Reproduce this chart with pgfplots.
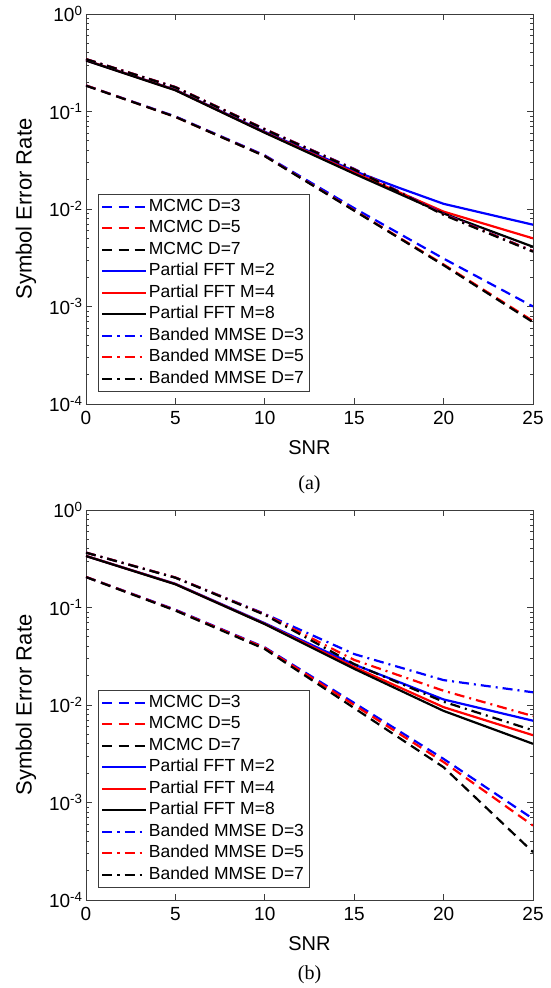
\documentclass[border=0pt]{standalone}
\usepackage{fontspec}
\setmainfont{Liberation Sans}
\newfontfamily\capfont{Liberation Serif}
\usepackage{pgfplots}
\pgfplotsset{compat=1.18}

\definecolor{axgray}{RGB}{60,60,60}
\newcommand{\fs}{\fontsize{17.5}{21}\selectfont}
\newcommand{\tfs}{\fontsize{19}{22}\selectfont}

\tikzset{
  dsh/.style={line width=2.2pt, dash pattern=on 10pt off 6pt},
  sld/.style={line width=2.2pt},
  ddt/.style={line width=2.2pt, dash pattern=on 10pt off 5pt on 2pt off 5pt},
}

\begin{document}
\begin{tikzpicture}

% (a)
\begin{axis}[
    at={(0pt,496pt)}, anchor=south west,
    scale only axis, width=447pt, height=390pt,
    ymode=log,
    xmin=0, xmax=25, ymin=1e-4, ymax=1,
    xtick={0,5,10,15,20,25},
    xticklabels={0,5,10,15,20,25},
    ytick={1e-4,1e-3,1e-2,1e-1,1},
    yticklabels={10\textsuperscript{-4},10\textsuperscript{-3},10\textsuperscript{-2},10\textsuperscript{-1},10\textsuperscript{0}},
    tick align=inside,
    major tick length=6pt, minor tick length=3pt,
    axis line style={axgray, line width=0.8pt},
    tick style={axgray, line width=0.8pt},
    xticklabel style={font=\tfs, yshift=-4pt},
    yticklabel style={font=\tfs},
    xlabel=SNR, ylabel=Symbol Error Rate,
    xlabel style={font=\fontsize{20}{24}\selectfont, at={(axis description cs:0.5,0)}, anchor=center, yshift=-44pt},
    ylabel style={font=\fontsize{22}{26}\selectfont, at={(axis description cs:0,0.5)}, anchor=center, yshift=60pt},
    legend cell align=left,
    legend image code/.code={\draw[#1] (0pt,0pt) -- (43pt,0pt);},
    legend style={at={(0,0)}, anchor=south west, xshift=12pt, yshift=12pt,
      draw=axgray, line width=0.8pt, font=\fs, row sep=0pt,
      nodes={text height=13pt, text depth=4pt, inner sep=2.25pt}},
]
\addplot[dsh, blue] coordinates {(0,0.185)(5,0.089)(10,0.0355)(15,0.0102)(20,0.0031)(25,0.00100)};
\addlegendentry{MCMC D=3}
\addplot[dsh, red] coordinates {(0,0.185)(5,0.088)(10,0.0350)(15,0.0097)(20,0.0027)(25,0.00071)};
\addlegendentry{MCMC D=5}
\addplot[dsh, black] coordinates {(0,0.184)(5,0.088)(10,0.0348)(15,0.0096)(20,0.00265)(25,0.00069)};
\addlegendentry{MCMC D=7}
\addplot[sld, blue] coordinates {(0,0.335)(5,0.167)(10,0.062)(15,0.0245)(17.5,0.0165)(20,0.0113)(25,0.0069)};
\addlegendentry{Partial FFT M=2}
\addplot[sld, red] coordinates {(0,0.335)(5,0.166)(10,0.061)(15,0.0236)(20,0.0094)(25,0.0050)};
\addlegendentry{Partial FFT M=4}
\addplot[sld, black] coordinates {(0,0.333)(5,0.165)(10,0.0605)(15,0.0230)(20,0.0090)(25,0.0041)};
\addlegendentry{Partial FFT M=8}
\addplot[ddt, blue] coordinates {(0,0.345)(5,0.178)(10,0.066)(15,0.0258)(20,0.0089)(25,0.0037)};
\addlegendentry{Banded MMSE D=3}
\addplot[ddt, red] coordinates {(0,0.345)(5,0.178)(10,0.066)(15,0.0256)(20,0.0088)(25,0.0037)};
\addlegendentry{Banded MMSE D=5}
\addplot[ddt, black] coordinates {(0,0.344)(5,0.177)(10,0.0655)(15,0.0254)(20,0.0087)(25,0.00365)};
\addlegendentry{Banded MMSE D=7}
\end{axis}

% (b)
\begin{axis}[
    at={(0pt,0pt)}, anchor=south west,
    scale only axis, width=447pt, height=390pt,
    ymode=log,
    xmin=0, xmax=25, ymin=1e-4, ymax=1,
    xtick={0,5,10,15,20,25},
    xticklabels={0,5,10,15,20,25},
    ytick={1e-4,1e-3,1e-2,1e-1,1},
    yticklabels={10\textsuperscript{-4},10\textsuperscript{-3},10\textsuperscript{-2},10\textsuperscript{-1},10\textsuperscript{0}},
    tick align=inside,
    major tick length=6pt, minor tick length=3pt,
    axis line style={axgray, line width=0.8pt},
    tick style={axgray, line width=0.8pt},
    xticklabel style={font=\tfs, yshift=-4pt},
    yticklabel style={font=\tfs},
    xlabel=SNR, ylabel=Symbol Error Rate,
    xlabel style={font=\fontsize{20}{24}\selectfont, at={(axis description cs:0.5,0)}, anchor=center, yshift=-44pt},
    ylabel style={font=\fontsize{22}{26}\selectfont, at={(axis description cs:0,0.5)}, anchor=center, yshift=60pt},
    legend cell align=left,
    legend image code/.code={\draw[#1] (0pt,0pt) -- (43pt,0pt);},
    legend style={at={(0,0)}, anchor=south west, xshift=12pt, yshift=12pt,
      draw=axgray, line width=0.8pt, font=\fs, row sep=0pt,
      nodes={text height=13pt, text depth=4pt, inner sep=2.25pt}},
]
\addplot[dsh, blue] coordinates {(0,0.206)(5,0.095)(10,0.039)(15,0.0105)(20,0.0028)(25,0.00068)};
\addlegendentry{MCMC D=3}
\addplot[dsh, red] coordinates {(0,0.206)(5,0.094)(10,0.0385)(15,0.0100)(20,0.0026)(25,0.00058)};
\addlegendentry{MCMC D=5}
\addplot[dsh, black] coordinates {(0,0.205)(5,0.093)(10,0.0375)(15,0.0093)(20,0.0023)(25,0.00031)};
\addlegendentry{MCMC D=7}
\addplot[sld, blue] coordinates {(0,0.338)(5,0.175)(10,0.069)(15,0.0260)(20,0.0114)(25,0.0069)};
\addlegendentry{Partial FFT M=2}
\addplot[sld, red] coordinates {(0,0.338)(5,0.174)(10,0.068)(15,0.0245)(20,0.0095)(25,0.0049)};
\addlegendentry{Partial FFT M=4}
\addplot[sld, black] coordinates {(0,0.337)(5,0.173)(10,0.0675)(15,0.0235)(20,0.0087)(25,0.0040)};
\addlegendentry{Partial FFT M=8}
\addplot[ddt, blue] coordinates {(0,0.366)(5,0.203)(10,0.086)(15,0.0333)(20,0.0180)(25,0.0135)};
\addlegendentry{Banded MMSE D=3}
\addplot[ddt, red] coordinates {(0,0.366)(5,0.203)(10,0.085)(15,0.0290)(20,0.0140)(25,0.0077)};
\addlegendentry{Banded MMSE D=5}
\addplot[ddt, black] coordinates {(0,0.365)(5,0.202)(10,0.084)(15,0.0263)(20,0.0108)(25,0.0055)};
\addlegendentry{Banded MMSE D=7}
\end{axis}

\node[font=\capfont\fontsize{20}{24}\selectfont] at (223.5pt,415pt) {(a)};
\node[font=\capfont\fontsize{20}{24}\selectfont] at (223.5pt,-75pt) {(b)};

\pgfresetboundingbox
\path (-86pt,-88pt) rectangle (464pt,900pt);
\end{tikzpicture}
\end{document}
